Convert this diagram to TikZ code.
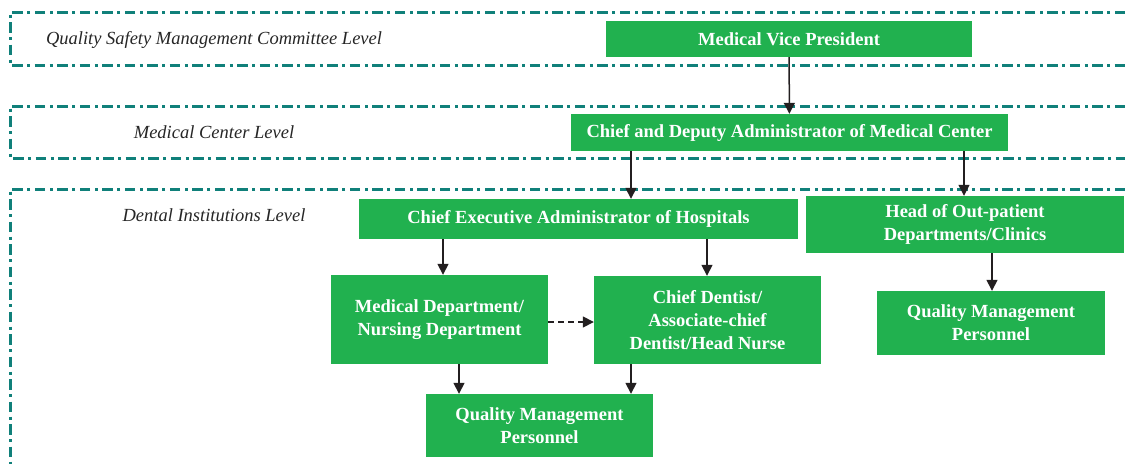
\documentclass[tikz,border=0pt]{standalone}
\usepackage{fontspec}
\setmainfont{Liberation Serif}
\usepackage{xcolor}
\usetikzlibrary{positioning, arrows.meta, calc}

\definecolor{boxgreen}{HTML}{21B14F}
\definecolor{bandteal}{HTML}{10807A}
\definecolor{arrowdark}{HTML}{231F20}

\begin{document}
\begin{tikzpicture}[
  x=1pt, y=-1pt,
  font=\fontsize{18.5}{23}\selectfont\bfseries,
  unit/.style={
    fill=boxgreen,
    text=white,
    align=center,
    inner sep=0pt
  },
  band/.style={
    draw=bandteal,
    line width=3pt,
    dash pattern=on 10.5pt off 4.5pt on 3pt off 4.5pt
  },
  level/.style={
    font=\fontsize{18.5}{22}\selectfont\itshape,
    text=black!85
  },
  arrow/.style={-{Triangle[length=11pt,width=11pt]}, draw=arrowdark, line width=1.5pt},
  dasharrow/.style={arrow, dashed, dash pattern=on 6pt off 4pt}
]
\useasboundingbox (0,0) rectangle (1125,464);

% Level bands
\draw[band] (1125,12) -- (10,12) -- (10,65) -- (1125,65);
\draw[band] (1125,106) -- (10,106) -- (10,158) -- (1125,158);
\draw[band] (1125,189) -- (10,189) -- (10,464);

% Level names
\node[level] (lvlcommittee) at (214,40) {Quality Safety Management Committee Level};
\node[level] (lvlcenter) at (214,132) {Medical Center Level};
\node[level] (lvldental) at (214,215) {Dental Institutions Level};

% Committee level
\node[unit, minimum width=366pt, minimum height=36pt] (vp) at (789,39) {Medical Vice President};

% Medical center level
\node[unit, minimum width=437pt, minimum height=37pt] (center) at (789.5,132.5) {Chief and Deputy Administrator of Medical Center};

% Dental institutions level
\node[unit, minimum width=439pt, minimum height=40pt] (exec) at (578.5,219) {Chief Executive Administrator of Hospitals};
\node[unit, minimum width=318pt, minimum height=57pt] (head) at (965,224.5) {Head of Out-patient\\Departments/Clinics};
\node[unit, minimum width=217pt, minimum height=89pt] (meddept) at (439.5,319.5) {Medical Department/\\Nursing Department};
\node[unit, minimum width=227pt, minimum height=88pt] (dentist) at (707.5,320) {Chief Dentist/\\Associate-chief\\Dentist/Head Nurse};
\node[unit, minimum width=228pt, minimum height=64pt] (qmright) at (991,323) {Quality Management\\Personnel};
\node[unit, minimum width=227pt, minimum height=63pt] (qmbottom) at (539.5,425.5) {Quality Management\\Personnel};

% Arrows
\draw[arrow] (vp) -- (center);
\draw[arrow] ([xshift=-158.5pt]center.south) -- ([xshift=52.5pt]exec.north);
\draw[arrow] ([xshift=174.5pt]center.south) -- ([xshift=-1pt]head.north);
\draw[arrow] ([xshift=-135.5pt]exec.south) -- ([xshift=3.5pt]meddept.north);
\draw[arrow] ([xshift=128.5pt]exec.south) -- ([xshift=-0.5pt]dentist.north);
\draw[arrow] ([xshift=27pt]head.south) -- ([xshift=1pt]qmright.north);
\draw[arrow] ([xshift=19.5pt]meddept.south) -- ([xshift=-80.5pt]qmbottom.north);
\draw[arrow] ([xshift=-76.5pt]dentist.south) -- ([xshift=91.5pt]qmbottom.north);

\draw[dasharrow] ([yshift=-2.5pt]meddept.east) -- ([yshift=-2pt]dentist.west);

\end{tikzpicture}
\end{document}
